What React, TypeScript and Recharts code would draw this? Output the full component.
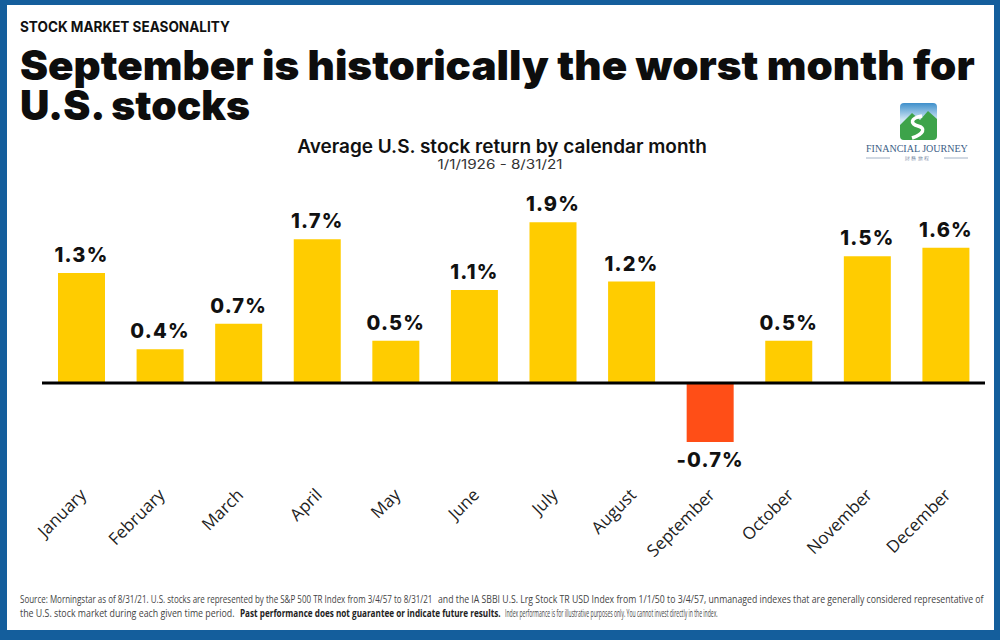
import React, { useLayoutEffect, useRef, useState } from 'react';
import { BarChart, Bar, XAxis, YAxis, ReferenceLine, Cell, LabelList } from 'recharts';

const months = [
  'January', 'February', 'March', 'April', 'May', 'June',
  'July', 'August', 'September', 'October', 'November', 'December',
];
const avgReturns = [1.3, 0.4, 0.7, 1.7, 0.5, 1.1, 1.9, 1.2, -0.7, 0.5, 1.5, 1.6];

const data = months.map((month, i) => ({ month, value: avgReturns[i] }));

const YELLOW = '#FFCC00';
const RED = '#FF4E17';
const FRAME = '#145E9C';
const NOTE_FONT = "'Liberation Sans Narrow', 'Open Sans', sans-serif";

// squeezes/stretches a text horizontally so it spans the given width
const FitText = (props: any) => {
  const { x, y, width, children, ...rest } = props;
  const ref = useRef<SVGTextElement>(null);
  const [sx, setSx] = useState(1);
  useLayoutEffect(() => {
    const w = ref.current ? ref.current.getComputedTextLength() : 0;
    if (w > 0) setSx(width / w);
  }, [width]);
  return (
    <text ref={ref} x={0} y={0} transform={`translate(${x},${y}) scale(${sx},1)`} {...rest}>
      {children}
    </text>
  );
};

const MonthTick = (props: any) => {
  const { x, y, payload } = props;
  return (
    <g transform={`translate(${x + 6},${y + 29})`}>
      <text
        textAnchor="end"
        transform="rotate(-45)"
        fontFamily="'Open Sans', 'Noto Sans', sans-serif"
        fontSize={17}
        fill="#222"
      >
        {payload.value}
      </text>
    </g>
  );
};

const ValueLabel = (props: any) => {
  const { x, y, width, height, value } = props;
  const top = Math.min(y, y + height);
  const bottom = Math.max(y, y + height);
  const cx = x + width / 2;
  const ty = value < 0 ? bottom + 25 : top - 11;
  return (
    <text
      x={cx}
      y={ty}
      textAnchor="middle"
      fontFamily="Inter, 'Noto Sans', sans-serif"
      fontWeight={800}
      fontSize={20}
      letterSpacing={1.2}
      fill="#111"
    >
      {`${value.toFixed(1)}%`}
    </text>
  );
};

const Logo = () => (
  <g transform="translate(900,103)">
    <defs>
      <linearGradient id="sky" x1="0" y1="0" x2="0" y2="1">
        <stop offset="0" stopColor="#3E8FCB" />
        <stop offset="0.45" stopColor="#CFE6F4" />
      </linearGradient>
    </defs>
    <rect x={0} y={0} width={37} height={37} rx={4} fill="url(#sky)" />
    <path d="M0 22 L12 10 L20 17 L28 8 L37 16 L37 33 Q37 37 33 37 L4 37 Q0 37 0 33 Z" fill="#3DA34A" />
    <path d="M22 13 C10 15 10 21 18 23 C26 25 24 31 12 35" stroke="#fff" strokeWidth={3.5} fill="none" />
  </g>
);

export default function App() {
  return (
    <div style={{ position: 'absolute', left: 0, top: 0, width: 1000, height: 640, background: FRAME }}>
      <div style={{ position: 'absolute', left: 7, top: 5, width: 987, height: 625, background: '#fff' }} />
      <div style={{ position: 'absolute', left: 0, top: 0 }}>
        <BarChart
          width={1000}
          height={640}
          data={data}
          margin={{ top: 197, right: 15, bottom: 151, left: 42 }}
        >
          <XAxis
            dataKey="month"
            axisLine={false}
            tickLine={false}
            interval={0}
            height={30}
            tick={<MonthTick />}
          />
          <YAxis hide domain={[-0.9, 2.2]} />
          <Bar dataKey="value" barSize={47} isAnimationActive={false}>
            {data.map((d) => (
              <Cell key={d.month} fill={d.value < 0 ? RED : YELLOW} />
            ))}
            <LabelList dataKey="value" content={<ValueLabel />} />
          </Bar>
          <ReferenceLine y={0} stroke="#000" strokeWidth={3} />
        </BarChart>
      </div>
      <svg
        width={1000}
        height={640}
        style={{ position: 'absolute', left: 0, top: 0, pointerEvents: 'none' }}
      >
        <FitText x={20} y={32} width={210} fontFamily="Inter, sans-serif" fontWeight={700} fontSize={14.5}
          fill="#111">
          STOCK MARKET SEASONALITY
        </FitText>
        <FitText x={20} y={80} width={955} fontFamily="Inter, sans-serif" fontWeight={900} fontSize={41}
          fill="#0d0d0d">
          September is historically the worst month for
        </FitText>
        <FitText x={20} y={120} width={230} fontFamily="Inter, sans-serif" fontWeight={900} fontSize={41}
          fill="#0d0d0d">
          U.S. stocks
        </FitText>
        <FitText x={502} y={153} width={410} textAnchor="middle" fontFamily="Inter, sans-serif" fontWeight={600}
          fontSize={18.5} fill="#111">
          Average U.S. stock return by calendar month
        </FitText>
        <FitText x={500} y={169} width={125} textAnchor="middle" fontFamily="Inter, sans-serif" fontWeight={400}
          fontSize={12.5} fill="#333">
          1/1/1926 - 8/31/21
        </FitText>

        <Logo />
        <FitText x={866} y={152} width={102} fontFamily="'Liberation Serif', 'DejaVu Serif', serif" fontSize={11}
          fill="#3B5E86">
          FINANCIAL JOURNEY
        </FitText>
        <line x1={866} y1={158} x2={890} y2={158} stroke="#8AA0B8" strokeWidth={0.8} />
        <line x1={944} y1={158} x2={968} y2={158} stroke="#8AA0B8" strokeWidth={0.8} />
        <text x={917} y={160} textAnchor="middle" fontFamily="'Noto Sans', sans-serif" fontSize={5}
          fill="#6F86A0">
          財 務 旅 程
        </text>

        <FitText x={20} y={603} width={413} fontFamily={NOTE_FONT} fontSize={10.5} fill="#444">
          Source: Morningstar as of 8/31/21. U.S. stocks are represented by the S&amp;P 500 TR Index from 3/4/57 to 8/31/21
        </FitText>
        <FitText x={438} y={603} width={546} fontFamily={NOTE_FONT} fontSize={10.5} fill="#444">
          and the IA SBBI U.S. Lrg Stock TR USD Index from 1/1/50 to 3/4/57, unmanaged indexes that are generally considered representative of
        </FitText>
        <FitText x={20} y={617} width={215} fontFamily={NOTE_FONT} fontSize={10.5} fill="#444">
          the U.S. stock market during each given time period.
        </FitText>
        <FitText x={240} y={617} width={261} fontFamily={NOTE_FONT} fontSize={10.5} fontWeight={700} fill="#222">
          Past performance does not guarantee or indicate future results.
        </FitText>
        <FitText x={505} y={617} width={213} fontFamily={NOTE_FONT} fontSize={10.5} fill="#444">
          Index performance is for illustrative purposes only. You cannot invest directly in the index.
        </FitText>
      </svg>
    </div>
  );
}
